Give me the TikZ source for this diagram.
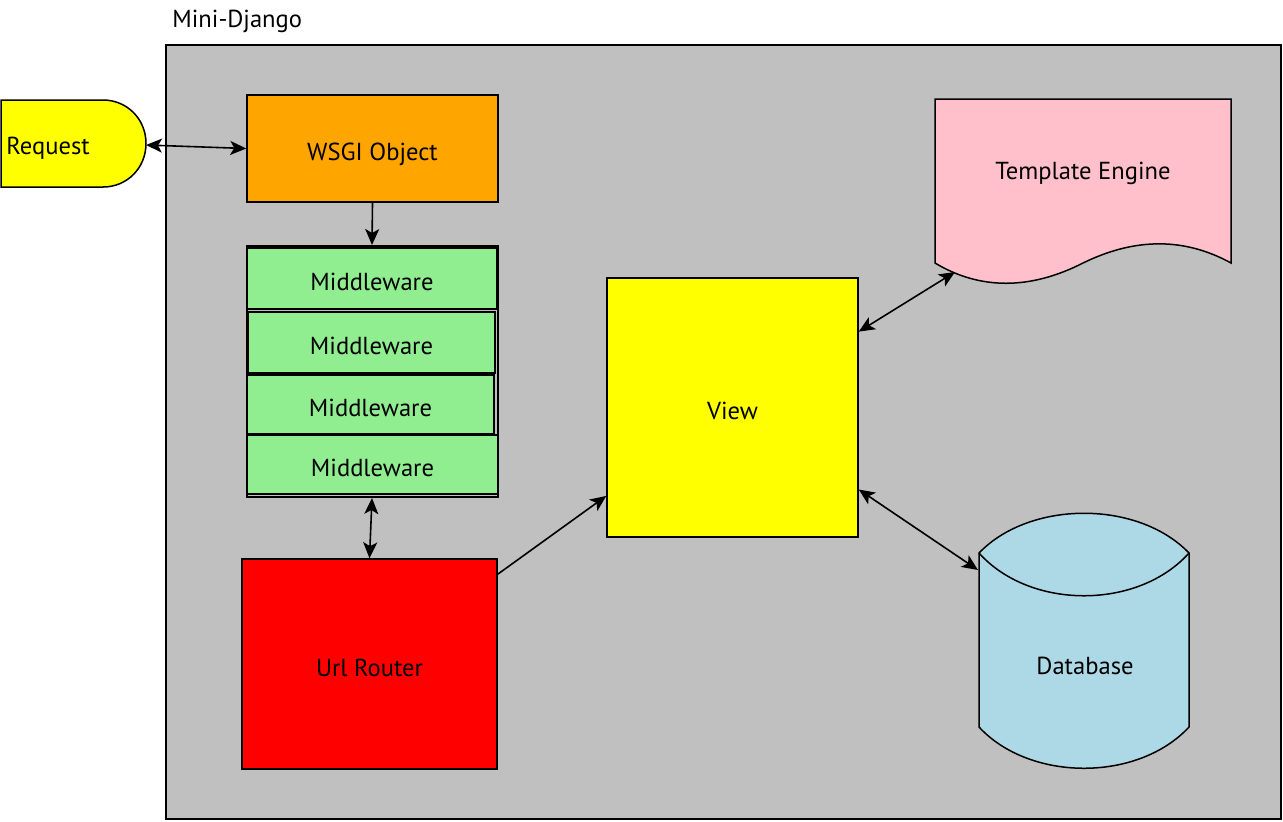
\documentclass[tikz,border=0pt]{standalone}
\usepackage{fontspec}
\setmainfont{PT Sans}
\usetikzlibrary{positioning,calc,arrows.meta}
\definecolor{framegray}{HTML}{C0C0C0}
\definecolor{boxyellow}{HTML}{FFFF00}
\definecolor{wsgiorange}{HTML}{FFA500}
\definecolor{mwgreen}{HTML}{90EE90}
\definecolor{routerred}{HTML}{FF0000}
\definecolor{tplpink}{HTML}{FFC0CB}
\definecolor{dbblue}{HTML}{ADD8E6}
\tikzset{
  label font/.style={font=\fontsize{12.3}{14}\selectfont},
  box/.style={draw,line width=0.75pt,inner sep=0pt,label font,text height=12pt,text depth=0pt},
  mw/.style={box,fill=mwgreen,line width=0.6pt},
  link/.style={line width=0.8pt,-{Stealth[length=8pt,width=7pt,inset=2pt]}},
  dlink/.style={line width=0.8pt,{Stealth[length=8pt,width=7pt,inset=2pt]}-{Stealth[length=8pt,width=7pt,inset=2pt]}}
}
\begin{document}
\begin{tikzpicture}[x=0.5pt,y=-0.5pt]
\useasboundingbox (0,0) rectangle (1283,821);
\draw[line width=0.75pt,fill=framegray] (166,45) rectangle (1281,819);
\node[anchor=base west,inner sep=0pt,label font] (title) at (172,27) {Mini-Django};

% request
\draw[line width=0.75pt,fill=boxyellow] (1,100) -- (103,100) .. controls (127,100) and (146,119) .. (146,143.5)
  .. controls (146,168) and (127,187) .. (103,187) -- (1,187) -- cycle;
\node[anchor=west,inner sep=0pt,label font] (req) at (6,148) {Request};
\coordinate (req-e) at (146,145);

\node[box,fill=wsgiorange,minimum width=125.5pt,minimum height=53.5pt] (wsgi) at (372.5,148.5) {WSGI Object};

% middleware stack
\node[draw,line width=1pt,minimum width=125.5pt,minimum height=125.5pt] (stack) at (372,371.5) {};
\node[mw,minimum width=125pt,minimum height=30.5pt] (mw1) at (372,278.5) {Middleware};
\node[mw,minimum width=123.5pt,minimum height=30.5pt] (mw2) at (371.5,342.5) {Middleware};
\node[mw,minimum width=123.5pt,minimum height=29.5pt] (mw3) at (370.5,404.5) {Middleware};
\node[mw,minimum width=125.5pt,minimum height=29.5pt] (mw4) at (372.5,464.5) {Middleware};

\node[box,fill=routerred,minimum width=127.5pt,minimum height=105pt] (router) at (369.5,664) {Url Router};
\node[box,fill=boxyellow,minimum width=125.5pt,minimum height=129.5pt] (view) at (732.5,407.5) {View};

% template engine
\draw[line width=0.75pt,fill=tplpink] (935,263) -- (935,99) -- (1231,99) -- (1231,263)
  .. controls (1180,235) and (1130,240) .. (1083,263) .. controls (1030,290) and (980,290) .. (935,263) -- cycle;
\node[inner sep=0pt,label font] (tpl) at (1083,173) {Template Engine};
\coordinate (tpl-in) at (955,272);

% database
\draw[line width=0.75pt,fill=dbblue] (979,553) .. controls (1030,500) and (1138,500) .. (1189,553) -- (1189,727)
  .. controls (1138,782) and (1030,782) .. (979,727) -- cycle;
\draw[line width=0.75pt] (979,553) .. controls (1030,610) and (1138,610) .. (1189,553);
\node[inner sep=0pt,label font] (db) at (1085,666) {Database};
\coordinate (db-in) at (978,570);

\draw[dlink] (req-e) -- (wsgi.west);
\draw[link] (wsgi.south) -- (stack.north);
\draw[dlink] (stack.south) -- (router.north);
\draw[link] (router.35) -- (view.215);
\draw[dlink] (view.31) -- (tpl-in);
\draw[dlink] (view.-33) -- (db-in);
\end{tikzpicture}
\end{document}
